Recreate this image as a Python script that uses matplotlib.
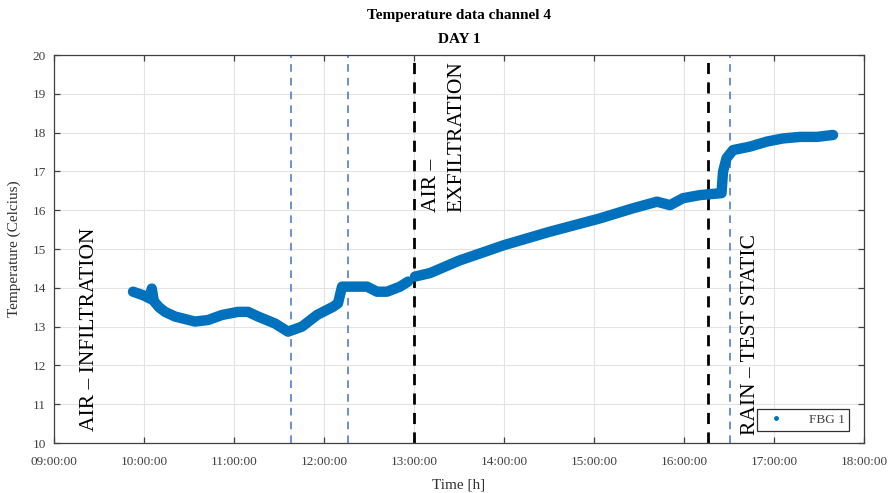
import numpy as np
import pandas as pd
import matplotlib
matplotlib.use("Agg")
import matplotlib.pyplot as plt
from matplotlib.lines import Line2D

plt.rcParams['font.family'] = ['Liberation Serif', 'DejaVu Serif']

# ---- data ----
times = ["09:52:40", "10:00:00", "10:04:00", "10:05:10", "10:06:30", "10:10:00", "10:14:00",
         "10:20:40", "10:34:00", "10:42:40", "10:52:00", "11:02:40", "11:09:20", "11:16:00",
         "11:27:20", "11:36:00", "11:45:20", "11:55:20", "12:06:00", "12:09:20", "12:12:00",
         "12:19:20", "12:28:40", "12:35:20", "12:42:00", "12:50:40", "12:56:00", "12:58:30",
         "13:00:40", "13:10:40", "13:30:00", "14:00:00", "14:30:00", "15:04:00", "15:26:00",
         "15:42:00", "15:50:40", "15:59:20", "16:10:40", "16:25:00", "16:26:00", "16:28:20",
         "16:32:40", "16:44:00", "16:55:20", "17:06:00", "17:17:20", "17:28:40", "17:39:20"]
temps = [13.90, 13.80, 13.72, 13.98, 13.66, 13.50, 13.38,
         13.26, 13.13, 13.17, 13.30, 13.38, 13.38, 13.26,
         13.08, 12.87, 13.00, 13.30, 13.51, 13.60, 14.03,
         14.03, 14.03, 13.90, 13.90, 14.03, 14.16, np.nan,
         14.29, 14.38, 14.70, 15.10, 15.44, 15.79, 16.05,
         16.22, 16.13, 16.31, 16.39, 16.44, 16.99, 17.34,
         17.55, 17.64, 17.77, 17.85, 17.89, 17.89, 17.94]
blue_events = ["11:38:00", "12:16:00", "16:30:30"]
black_events = ["13:00:00", "16:16:00"]
xtick_labels = ["09:00:00", "10:00:00", "11:00:00", "12:00:00", "13:00:00",
                "14:00:00", "15:00:00", "16:00:00", "17:00:00", "18:00:00"]
yticks = [10, 11, 12, 13, 14, 15, 16, 17, 18, 19, 20]
series_name = "FBG 1"

day = "2020-01-01 "
x = pd.to_datetime([day + t for t in times])
xt = pd.to_datetime([day + t for t in xtick_labels])

fig = plt.figure(figsize=(8.9, 4.93), dpi=100)
ax = fig.add_axes([0.0607, 0.1014, 0.9101, 0.787])

line_color = '#0072BD'
ax.plot(x, temps, color=line_color, lw=7.5, solid_capstyle='round',
        solid_joinstyle='round', zorder=3)

for t in blue_events:
    ax.axvline(pd.Timestamp(day + t), color='#4472C4', lw=1.1, ls=(0, (5, 4)), zorder=2)
for t in black_events:
    ax.axvline(pd.Timestamp(day + t), color='black', lw=2.0, ls=(0, (4, 3)), zorder=2)

ax.set_xlim(xt[0], xt[-1])
ax.set_ylim(10, 20)
ax.set_xticks(xt)
ax.set_xticklabels(xtick_labels)
ax.set_yticks(yticks)

ax.grid(True, color='#e3e3e3', lw=0.8, zorder=0)
ax.set_axisbelow(True)
for s in ax.spines.values():
    s.set_color('#404040')
    s.set_linewidth(0.9)
ax.tick_params(direction='in', length=4, width=0.9, top=True, right=True,
               colors='#404040', labelsize=9.5)
ax.tick_params(axis='x', pad=9)
ax.tick_params(axis='y', pad=6)
for lab in ax.get_xticklabels() + ax.get_yticklabels():
    lab.set_color('#404040')

ax.set_xlabel("Time [h]", fontsize=11, color='#303030', labelpad=8)
ax.set_ylabel("Temperature (Celcius)", fontsize=11, color='#303030', labelpad=8)
ax.set_title("Temperature data channel 4\nDAY 1", fontsize=11, fontweight='bold',
             linespacing=2.1, pad=8.5)

ax.text(pd.Timestamp(day + "09:23:20"), 10.3, "AIR – INFILTRATION", rotation=90,
        fontsize=15.5, ha='center', va='bottom', zorder=4)
ax.text(pd.Timestamp(day + "13:20:00"), 15.95, "AIR –\nEXFILTRATION", rotation=90,
        fontsize=15.5, ha='center', va='bottom', multialignment='left', zorder=4,
        linespacing=1.45)
ax.text(pd.Timestamp(day + "16:44:00"), 10.2, "RAIN – TEST STATIC", rotation=90,
        fontsize=15.5, ha='center', va='bottom', zorder=4)

handle = Line2D([], [], marker='.', ls='none', color=line_color, markersize=5)
leg = ax.legend([handle], [series_name], loc='lower right', fontsize=9.5,
                frameon=True, fancybox=False, edgecolor='#303030', framealpha=1,
                borderpad=0.35, handlelength=2.3, handletextpad=1.3,
                bbox_to_anchor=(0.99, 0.015))
leg.set_zorder(10)
leg.get_frame().set_linewidth(0.9)
leg.get_texts()[0].set_color('#404040')

fig.savefig("out.png", dpi=100)
